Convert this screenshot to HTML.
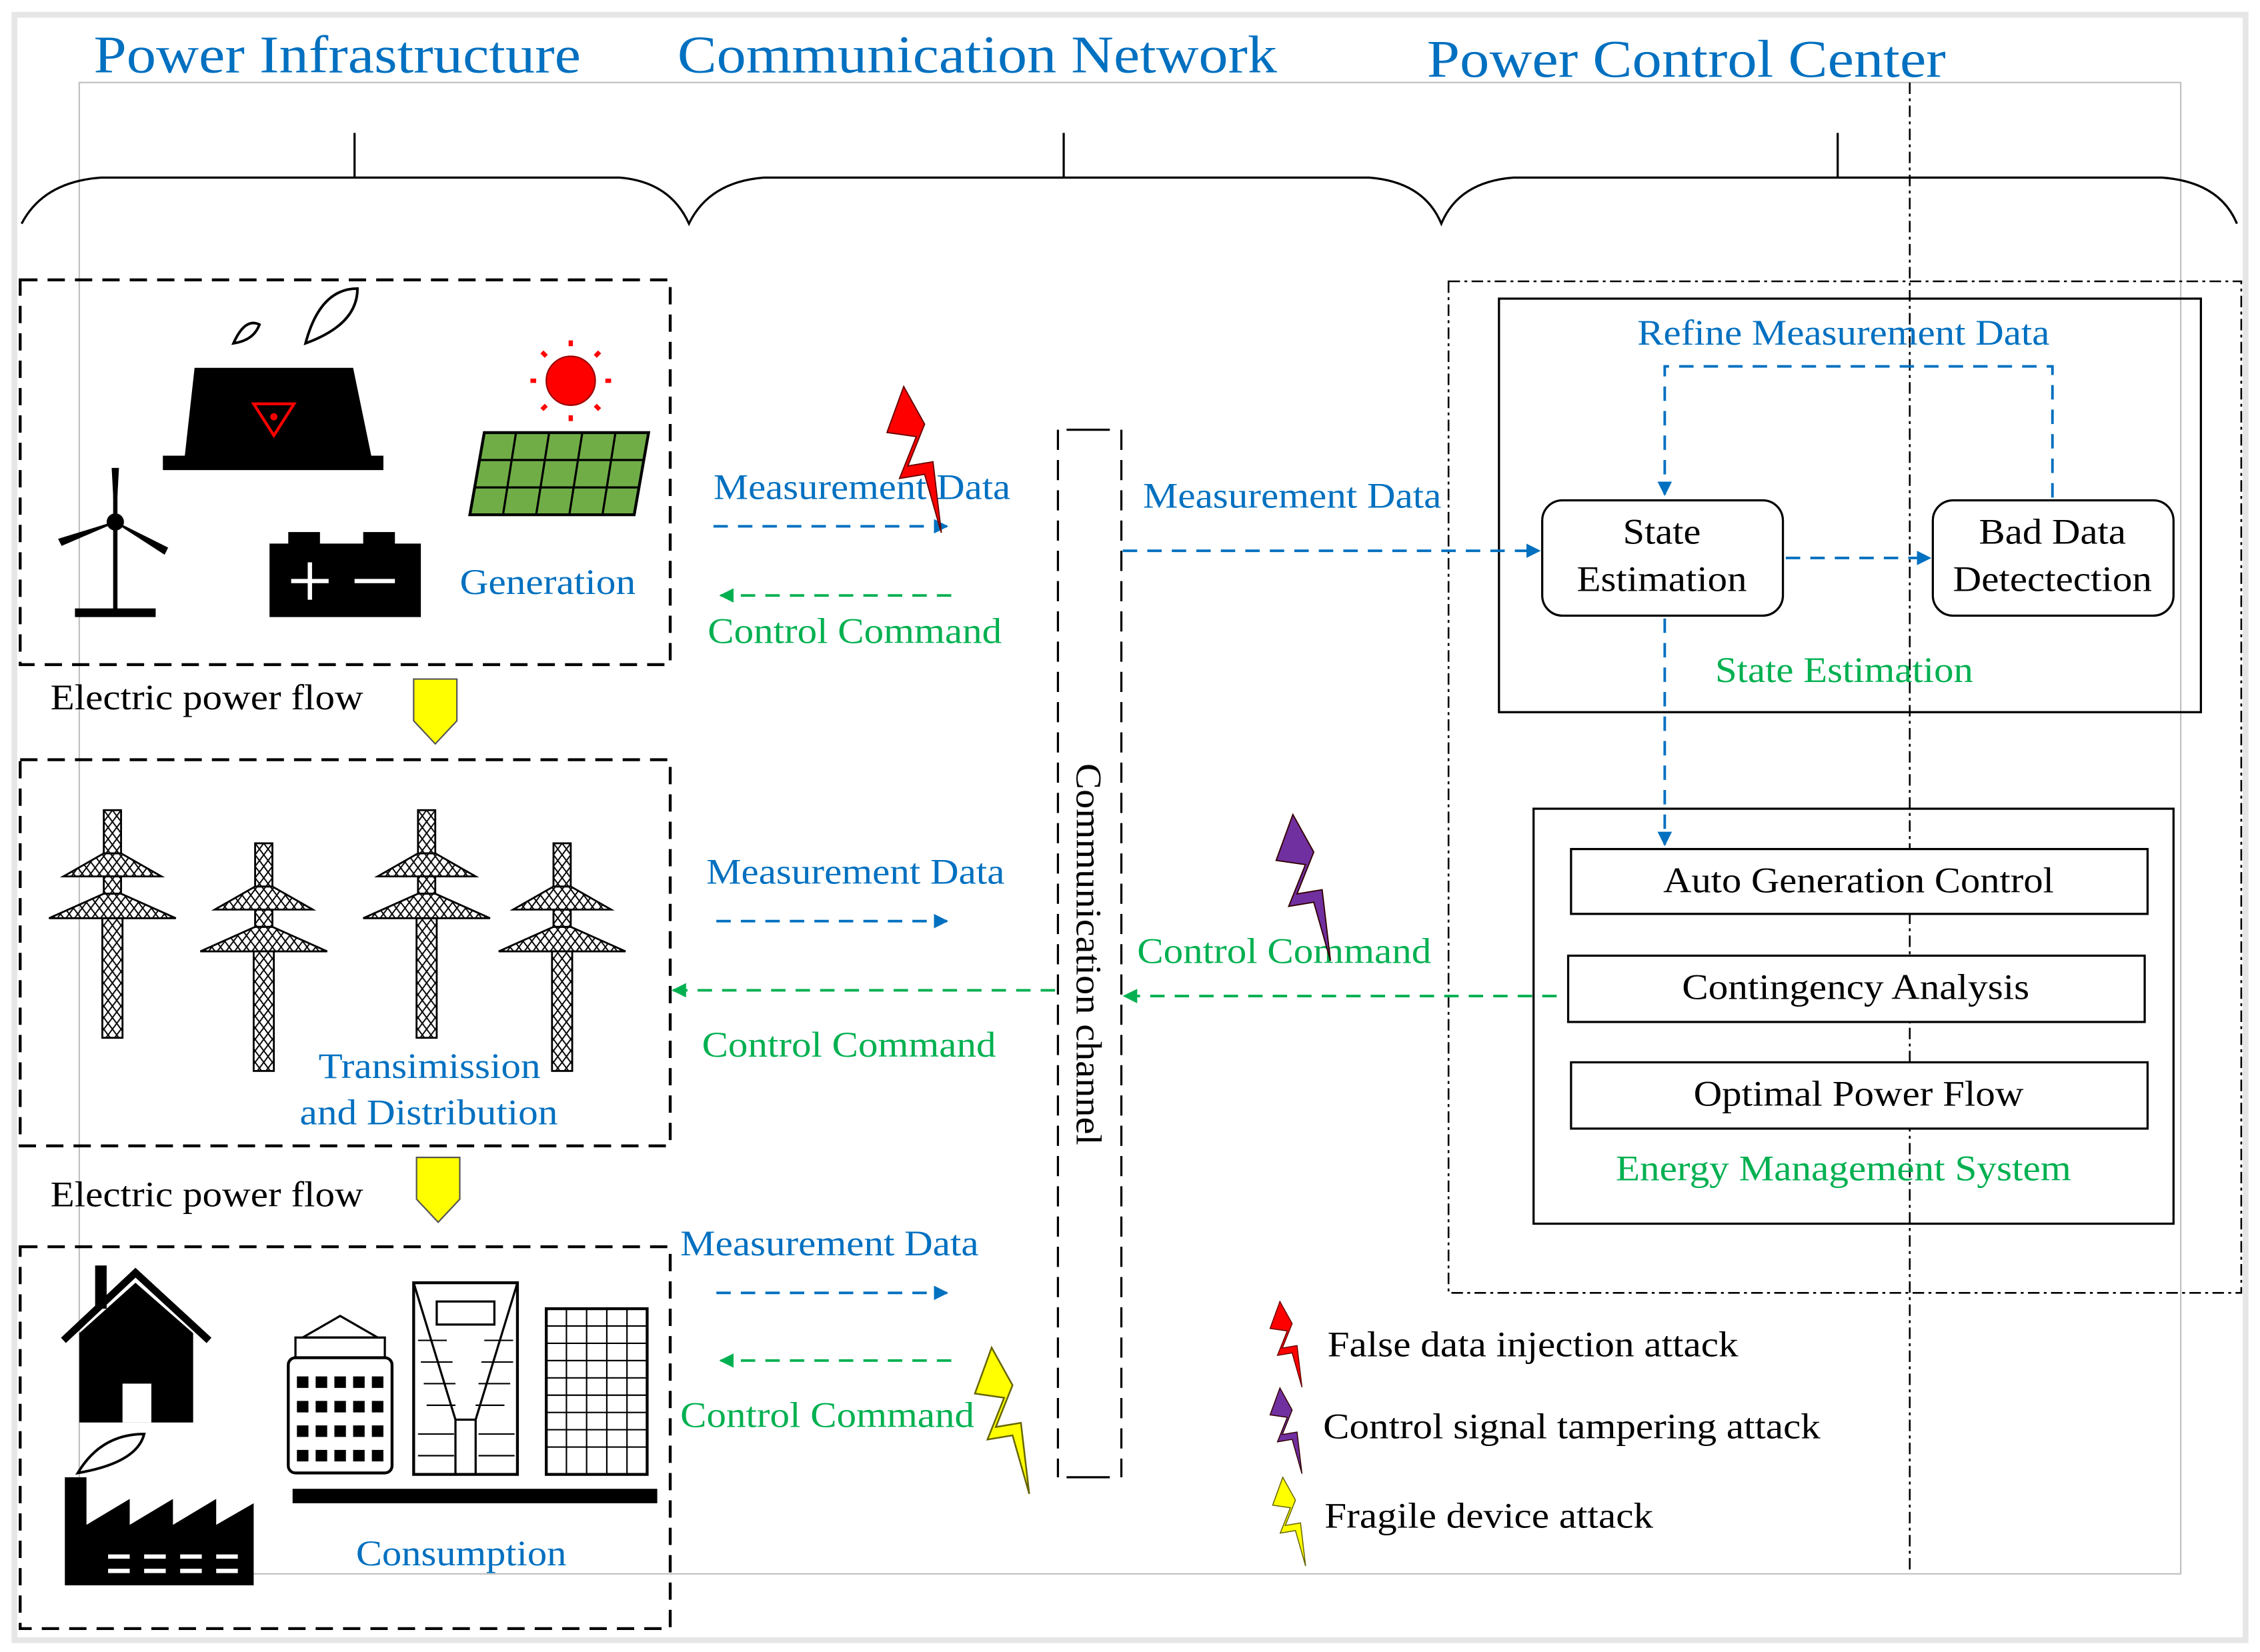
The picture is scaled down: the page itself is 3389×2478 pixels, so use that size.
<!DOCTYPE html>
<html><head><meta charset="utf-8"><style>
html,body{margin:0;padding:0;background:#fff}
svg{display:block}
text{font-family:"Liberation Serif",serif}
.b{fill:#0070c0}.g{fill:#00b050}
</style></head><body>
<svg width="3389" height="2478" viewBox="0 0 1568 1146" xmlns="http://www.w3.org/2000/svg">
<defs>
<pattern id="xh" width="6" height="8" patternUnits="userSpaceOnUse">
<path d="M0 0L6 8M6 0L0 8" stroke="#000" stroke-width="0.9"/>
</pattern>
<marker id="ab" markerWidth="10" markerHeight="10" refX="9" refY="5" orient="auto" markerUnits="userSpaceOnUse"><path d="M0 0L10 5L0 10z" fill="#0070c0"/></marker>
<marker id="ag" markerWidth="10" markerHeight="10" refX="9" refY="5" orient="auto" markerUnits="userSpaceOnUse"><path d="M0 0L10 5L0 10z" fill="#00b050"/></marker>
<g id="tower" stroke="#000" stroke-width="1.3" fill="url(#xh)">
<rect x="-6" y="0" width="12" height="30"/>
<path d="M-6 30L6 30L34 46L-34 46Z"/>
<rect x="-6" y="46" width="12" height="12"/>
<path d="M-6 58L6 58L44 75L-44 75Z"/>
<rect x="-7" y="75" width="14" height="83"/>
</g>
<g id="bolt"><path d="M0 0L-8 22L6 24L-2 44L10 42L18 70L14 36L2 38L10 18Z"/></g>
</defs>
<rect x="0" y="0" width="1568" height="1146" fill="#fff"/>
<rect x="10" y="10" width="1548" height="1128" fill="none" stroke="#e6e6e6" stroke-width="4"/>
<rect x="55" y="57" width="1458" height="1035" fill="none" stroke="#c0c0c0" stroke-width="1"/>
<line x1="1325" y1="57" x2="1325" y2="1092" stroke="#000" stroke-width="1.2" stroke-dasharray="8 3 2 3"/>
<text x="65" y="50" class="b" font-size="37" textLength="338" lengthAdjust="spacingAndGlyphs">Power Infrastructure</text>
<text x="470" y="50" class="b" font-size="37" textLength="416" lengthAdjust="spacingAndGlyphs">Communication Network</text>
<text x="990" y="53" class="b" font-size="37" textLength="360" lengthAdjust="spacingAndGlyphs">Power Control Center</text>
<g fill="none" stroke="#000" stroke-width="1.5">
<path d="M15 155Q30 126 70 123L430 123Q465 126 478 155Q492 126 530 123L950 123Q988 126 1000 155Q1012 126 1050 123L1500 123Q1540 126 1552 155"/>
<line x1="246" y1="92" x2="246" y2="123"/><line x1="738" y1="92" x2="738" y2="123"/><line x1="1275" y1="92" x2="1275" y2="123"/>
</g>
<g fill="none" stroke="#000" stroke-width="2" stroke-dasharray="12 7">
<rect x="14" y="194" width="451" height="267"/>
<rect x="14" y="527" width="451" height="268"/>
<rect x="14" y="865" width="451" height="265"/>
</g>
<rect x="1005" y="195" width="550" height="702" fill="none" stroke="#000" stroke-width="1.2" stroke-dasharray="8 3 2 3"/>
<rect x="1040" y="207" width="487" height="287" fill="none" stroke="#000" stroke-width="1.5"/>
<rect x="1064" y="561" width="444" height="288" fill="none" stroke="#000" stroke-width="1.5"/>
<rect x="1070" y="347" width="167" height="80" rx="14" fill="#fff" stroke="#000" stroke-width="1.5"/>
<rect x="1341" y="347" width="167" height="80" rx="14" fill="#fff" stroke="#000" stroke-width="1.5"/>
<text x="1153" y="377" font-size="25" text-anchor="middle" textLength="54" lengthAdjust="spacingAndGlyphs">State</text>
<text x="1153" y="410" font-size="25" text-anchor="middle" textLength="118" lengthAdjust="spacingAndGlyphs">Estimation</text>
<text x="1424" y="377" font-size="25" text-anchor="middle" textLength="102" lengthAdjust="spacingAndGlyphs">Bad Data</text>
<text x="1424" y="410" font-size="25" text-anchor="middle" textLength="138" lengthAdjust="spacingAndGlyphs">Detectection</text>
<text x="1136" y="239" class="b" font-size="25" textLength="286" lengthAdjust="spacingAndGlyphs">Refine Measurement Data</text>
<text x="1190" y="473" class="g" font-size="25" textLength="179" lengthAdjust="spacingAndGlyphs">State Estimation</text>
<g fill="#fff" stroke="#000" stroke-width="1.5">
<rect x="1090" y="589" width="400" height="45"/>
<rect x="1088" y="663" width="400" height="46"/>
<rect x="1090" y="737" width="400" height="46"/>
</g>
<text x="1154" y="619" font-size="25" textLength="271" lengthAdjust="spacingAndGlyphs">Auto Generation Control</text>
<text x="1167" y="693" font-size="25" textLength="241" lengthAdjust="spacingAndGlyphs">Contingency Analysis</text>
<text x="1175" y="767" font-size="25" textLength="229" lengthAdjust="spacingAndGlyphs">Optimal Power Flow</text>
<text x="1121" y="819" class="g" font-size="25" textLength="316" lengthAdjust="spacingAndGlyphs">Energy Management System</text>
<g fill="none" stroke="#0070c0" stroke-width="1.8" stroke-dasharray="10 7">
<path d="M1424 345L1424 254L1155 254L1155 343" marker-end="url(#ab)"/>
<line x1="1239" y1="387" x2="1339" y2="387" marker-end="url(#ab)"/>
<line x1="1155" y1="429" x2="1155" y2="586" marker-end="url(#ab)"/>
<line x1="779" y1="382" x2="1068" y2="382" marker-end="url(#ab)"/>
</g>
<g fill="none" stroke="#00b050" stroke-width="1.8" stroke-dasharray="10 7">
<line x1="1080" y1="691" x2="780" y2="691" marker-end="url(#ag)"/>
<line x1="732" y1="687" x2="467" y2="687" marker-end="url(#ag)"/>
</g>
<g fill="none" stroke="#000" stroke-width="1.5">
<line x1="734" y1="298" x2="734" y2="1025" stroke-dasharray="14 7"/>
<line x1="778" y1="298" x2="778" y2="1025" stroke-dasharray="14 7"/>
<line x1="740" y1="298" x2="770" y2="298"/><line x1="740" y1="1025" x2="770" y2="1025"/>
</g>
<text transform="translate(747 662) rotate(90)" font-size="25" text-anchor="middle" textLength="265" lengthAdjust="spacingAndGlyphs">Communication channel</text>
<g fill="none" stroke-width="1.8" stroke-dasharray="10 7">
<line x1="495" y1="365" x2="657" y2="365" stroke="#0070c0" marker-end="url(#ab)"/>
<line x1="660" y1="413" x2="500" y2="413" stroke="#00b050" marker-end="url(#ag)"/>
<line x1="497" y1="639" x2="657" y2="639" stroke="#0070c0" marker-end="url(#ab)"/>
<line x1="497" y1="897" x2="657" y2="897" stroke="#0070c0" marker-end="url(#ab)"/>
<line x1="660" y1="944" x2="500" y2="944" stroke="#00b050" marker-end="url(#ag)"/>
</g>
<text x="495" y="346" class="b" font-size="25" textLength="206" lengthAdjust="spacingAndGlyphs">Measurement Data</text>
<text x="491" y="446" class="g" font-size="25" textLength="204" lengthAdjust="spacingAndGlyphs">Control Command</text>
<text x="793" y="352" class="b" font-size="25" textLength="207" lengthAdjust="spacingAndGlyphs">Measurement Data</text>
<text x="490" y="613" class="b" font-size="25" textLength="207" lengthAdjust="spacingAndGlyphs">Measurement Data</text>
<text x="487" y="733" class="g" font-size="25" textLength="204" lengthAdjust="spacingAndGlyphs">Control Command</text>
<text x="789" y="668" class="g" font-size="25" textLength="204" lengthAdjust="spacingAndGlyphs">Control Command</text>
<text x="472" y="871" class="b" font-size="25" textLength="207" lengthAdjust="spacingAndGlyphs">Measurement Data</text>
<text x="472" y="990" class="g" font-size="25" textLength="204" lengthAdjust="spacingAndGlyphs">Control Command</text>
<g transform="translate(627 268) scale(1.45)" fill="#ff0000" stroke="#600" stroke-width="0.6"><use href="#bolt"/></g>
<g transform="translate(897 565) scale(1.45)" fill="#7030a0" stroke="#300" stroke-width="0.6"><use href="#bolt"/></g>
<g transform="translate(688 935) scale(1.45)" fill="#ffff00" stroke="#660" stroke-width="0.8"><use href="#bolt"/></g>
<g transform="translate(888 903) scale(0.85)" fill="#ff0000" stroke="#600" stroke-width="0.8"><use href="#bolt"/></g>
<g transform="translate(888 963) scale(0.85)" fill="#7030a0" stroke="#300" stroke-width="0.8"><use href="#bolt"/></g>
<g transform="translate(890 1025) scale(0.88)" fill="#ffff00" stroke="#660" stroke-width="0.8"><use href="#bolt"/></g>
<text x="921" y="941" font-size="25" textLength="285" lengthAdjust="spacingAndGlyphs">False data injection attack</text>
<text x="918" y="998" font-size="25" textLength="345" lengthAdjust="spacingAndGlyphs">Control signal tampering attack</text>
<text x="919" y="1060" font-size="25" textLength="228" lengthAdjust="spacingAndGlyphs">Fragile device attack</text>
<text x="35" y="492" font-size="25" textLength="217" lengthAdjust="spacingAndGlyphs">Electric power flow</text>
<text x="35" y="837" font-size="25" textLength="217" lengthAdjust="spacingAndGlyphs">Electric power flow</text>
<path d="M287 471L317 471L317 500L302 516L287 500Z" fill="#ffff00" stroke="#555" stroke-width="1"/>
<path d="M289 803L319 803L319 832L304 848L289 832Z" fill="#ffff00" stroke="#555" stroke-width="1"/>
<path d="M135 255L245 255L258 318L128 318Z" fill="#000"/>
<rect x="113" y="316" width="153" height="10" fill="#000"/>
<path d="M176 280L204 280L190 302Z" fill="none" stroke="#f00" stroke-width="2"/>
<circle cx="190" cy="289" r="2.5" fill="#f00"/>
<path d="M162 238Q170 220 180 225Q176 236 162 238Z" fill="none" stroke="#000" stroke-width="1.8"/>
<path d="M212 238Q222 200 248 200Q248 225 212 238Z" fill="none" stroke="#000" stroke-width="1.8"/>
<circle cx="396" cy="264" r="17" fill="#f00" stroke="#900"/>
<g stroke="#f00" stroke-width="3"><path d="M396 240v-4M396 288v4M372 264h-4M420 264h4M379 247l-3-3M413 281l3 3M413 247l3-3M379 281l-3 3"/></g>
<path d="M336 300L450 300L440 357L326 357Z" fill="#70ad47" stroke="#000" stroke-width="2"/>
<g stroke="#000" stroke-width="1.5"><path d="M333 319H446M330 338H443M358 300L349 357M381 300L372 357M404 300L395 357M427 300L418 357"/></g>
<line x1="80" y1="330" x2="80" y2="423" stroke="#000" stroke-width="3"/>
<rect x="52" y="422" width="56" height="6" fill="#000"/>
<circle cx="80" cy="362" r="6" fill="#000"/>
<path d="M80 362L78 325L82 325Z M80 362L43 378L41 374Z M80 362L116 380L114 384Z" fill="#000" stroke="#000"/>
<rect x="187" y="377" width="105" height="51" fill="#000"/>
<rect x="200" y="369" width="22" height="10" fill="#000"/><rect x="252" y="369" width="22" height="10" fill="#000"/>
<path d="M202 403h26M215 390v26M246 403h28" stroke="#fff" stroke-width="3"/>
<text x="319" y="412" class="b" font-size="25" textLength="122" lengthAdjust="spacingAndGlyphs">Generation</text>
<use href="#tower" x="78" y="562"/>
<use href="#tower" x="183" y="585"/>
<use href="#tower" x="296" y="562"/>
<use href="#tower" x="390" y="585"/>
<text x="221" y="748" class="b" font-size="25" textLength="154" lengthAdjust="spacingAndGlyphs">Transimission</text>
<text x="208" y="780" class="b" font-size="25" textLength="179" lengthAdjust="spacingAndGlyphs">and Distribution</text>
<path d="M44 930L94 883L145 930" fill="none" stroke="#000" stroke-width="5"/>
<rect x="66" y="878" width="8" height="30" fill="#000"/>
<path d="M55 925L94 890L134 925L134 987L55 987Z" fill="#000"/>
<rect x="85" y="960" width="20" height="27" fill="#fff"/>
<path d="M45 1100L45 1025L60 1025L60 1058L90 1040L90 1058L120 1040L120 1058L150 1040L150 1058L176 1043L176 1100Z" fill="#000"/>
<path d="M54 1022Q70 995 100 995Q95 1015 54 1022Z" fill="none" stroke="#000" stroke-width="1.8"/>
<path d="M75 1080h15M100 1080h15M125 1080h15M150 1080h15M75 1090h15M100 1090h15M125 1090h15M150 1090h15" stroke="#fff" stroke-width="3"/>
<rect x="203" y="1033" width="253" height="10" fill="#000"/>
<path d="M210 928L236 913L262 928Z" fill="none" stroke="#000" stroke-width="1.5"/>
<rect x="205" y="928" width="62" height="14" fill="none" stroke="#000" stroke-width="1.5"/>
<rect x="200" y="942" width="72" height="80" rx="5" fill="none" stroke="#000" stroke-width="2"/>
<g fill="#000"><path d="M206 955h8v8h-8zM219 955h8v8h-8zM232 955h8v8h-8zM245 955h8v8h-8zM258 955h8v8h-8zM206 972h8v8h-8zM219 972h8v8h-8zM232 972h8v8h-8zM245 972h8v8h-8zM258 972h8v8h-8zM206 989h8v8h-8zM219 989h8v8h-8zM232 989h8v8h-8zM245 989h8v8h-8zM258 989h8v8h-8zM206 1006h8v8h-8zM219 1006h8v8h-8zM232 1006h8v8h-8zM245 1006h8v8h-8zM258 1006h8v8h-8z"/></g>
<rect x="287" y="890" width="72" height="133" fill="none" stroke="#000" stroke-width="2"/>
<rect x="303" y="903" width="40" height="16" fill="none" stroke="#000" stroke-width="1.5"/>
<path d="M287 890L316 985L330 985L359 890M316 985V1023M330 985V1023" fill="none" stroke="#000" stroke-width="1.5"/>
<g stroke="#000" stroke-width="1"><path d="M290 930h20M292 945h22M294 960h22M296 975h20M290 995h25M290 1010h25M336 930h20M334 945h22M332 960h22M330 975h20M332 995h25M332 1010h25"/></g>
<rect x="379" y="908" width="70" height="115" fill="none" stroke="#000" stroke-width="2"/>
<g stroke="#000" stroke-width="1"><path d="M379 920h70M379 932h70M379 944h70M379 956h70M379 968h70M379 980h70M379 992h70M379 1004h70M393 908v115M407 908v115M421 908v115M435 908v115"/></g>
<text x="247" y="1086" class="b" font-size="25" textLength="146" lengthAdjust="spacingAndGlyphs">Consumption</text>
</svg>
</body></html>
